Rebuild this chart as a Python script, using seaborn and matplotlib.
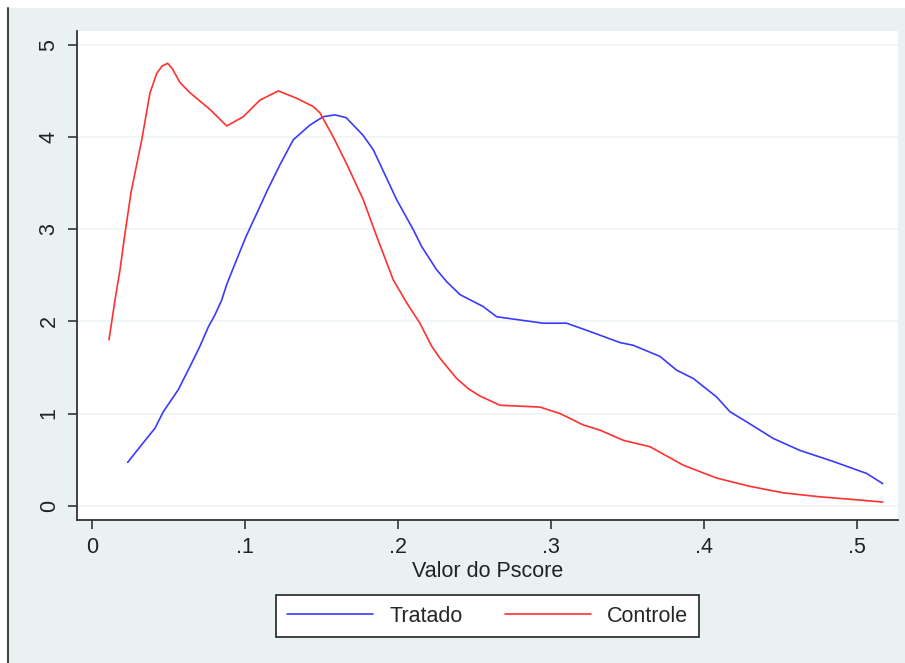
import matplotlib
matplotlib.use("Agg")
import matplotlib.pyplot as plt
import seaborn as sns
import pandas as pd
from matplotlib.patches import Rectangle
from matplotlib.lines import Line2D

# kernel density curves
tratado_x = [0.0233, 0.0314, 0.0411, 0.0466, 0.0564, 0.064, 0.0705, 0.076, 0.0803,
             0.0847, 0.088, 0.0945, 0.1006, 0.1076, 0.1145, 0.1228, 0.1315, 0.1424,
             0.151, 0.1587, 0.166, 0.177, 0.1838, 0.190, 0.199, 0.210, 0.2154, 0.2251,
             0.2317, 0.2404, 0.2556, 0.2643, 0.2817, 0.2948, 0.31, 0.3253, 0.3383,
             0.3449, 0.3536, 0.371, 0.3819, 0.3928, 0.408, 0.4167, 0.4276, 0.445,
             0.4624, 0.4842, 0.506, 0.5165]
tratado_y = [0.47, 0.64, 0.84, 1.02, 1.26, 1.51, 1.73, 1.94, 2.07,
             2.23, 2.40, 2.67, 2.92, 3.17, 3.42, 3.70, 3.97, 4.13,
             4.22, 4.24, 4.21, 4.02, 3.86, 3.64, 3.32, 2.99, 2.81, 2.56,
             2.43, 2.29, 2.16, 2.05, 2.01, 1.98, 1.98, 1.89, 1.81,
             1.77, 1.74, 1.62, 1.47, 1.38, 1.18, 1.02, 0.91, 0.73,
             0.60, 0.48, 0.35, 0.24]

controle_x = [0.0111, 0.015, 0.0183, 0.0216, 0.0255, 0.0325, 0.0379, 0.0423, 0.0458,
              0.0494, 0.0525, 0.0575, 0.064, 0.077, 0.088, 0.0988, 0.1097, 0.1217,
              0.1337, 0.1446, 0.149, 0.1576, 0.166, 0.1772, 0.186, 0.1968, 0.2056,
              0.2142, 0.2219, 0.2273, 0.2382, 0.2458, 0.2534, 0.2665, 0.2926, 0.3057,
              0.3209, 0.3318, 0.347, 0.3645, 0.3862, 0.408, 0.4298, 0.4515, 0.4733,
              0.4951, 0.5165]
controle_y = [1.80, 2.23, 2.56, 2.96, 3.40, 3.97, 4.48, 4.69, 4.77,
              4.80, 4.74, 4.59, 4.48, 4.30, 4.12, 4.22, 4.40, 4.50,
              4.42, 4.33, 4.26, 4.00, 3.72, 3.32, 2.92, 2.45, 2.20,
              1.98, 1.73, 1.60, 1.38, 1.27, 1.19, 1.09, 1.07, 1.00,
              0.876, 0.82, 0.71, 0.64, 0.44, 0.30, 0.21, 0.14, 0.10,
              0.07, 0.04]

grupos = ["Tratado", "Controle"]
cores = {"Tratado": "#3a3aff", "Controle": "#ff3030"}

x_ticks = [0, 0.1, 0.2, 0.3, 0.4, 0.5]
x_labels = ["0", ".1", ".2", ".3", ".4", ".5"]
y_ticks = [0, 1, 2, 3, 4, 5]

df = pd.concat([
    pd.DataFrame({"pscore": tratado_x, "densidade": tratado_y, "grupo": "Tratado"}),
    pd.DataFrame({"pscore": controle_x, "densidade": controle_y, "grupo": "Controle"}),
])

sns.set_theme(style="white")
plt.rcParams["font.family"] = ["Liberation Sans", "DejaVu Sans"]
fs = 15.5

fig = plt.figure(figsize=(9.05, 6.63), dpi=100, facecolor="white")
W, H = 905, 663

# stata-like outer panel
bg = "#e9f1f3"
fig.patches.append(Rectangle((8 / W, 0), 1 - 8 / W, 1 - 8 / H, transform=fig.transFigure,
                             facecolor=bg, edgecolor="none", zorder=-2))
fig.lines.append(Line2D([8 / W, 8 / W], [0, 1 - 8 / H], transform=fig.transFigure,
                        color="#444444", linewidth=1.5, zorder=-1))

ax = fig.add_axes([77 / W, 1 - 520 / H, (898 - 77) / W, (520 - 31) / H])
ax.set_zorder(2)
ax.set_facecolor("white")

sns.lineplot(data=df, x="pscore", y="densidade", hue="grupo", palette=cores,
             sort=False, estimator=None, linewidth=1.2, ax=ax, legend=False)

ax.set_xlim(-0.0098, 0.5265)
ax.set_ylim(-0.155, 5.15)
ax.set_xticks(x_ticks)
ax.set_xticklabels(x_labels)
ax.set_yticks(y_ticks)
ax.set_yticklabels([str(v) for v in y_ticks], rotation=90, va="center")

for v in y_ticks:
    ax.axhline(v, color="#eef3f4", linewidth=1.2, zorder=0)

for s in ["top", "right"]:
    ax.spines[s].set_visible(False)
for s in ["left", "bottom"]:
    ax.spines[s].set_color("#333333")
    ax.spines[s].set_linewidth(1.3)

ax.tick_params(axis="both", direction="out", length=6.5, width=1.2, color="#333333",
               labelsize=fs, labelcolor="#222222", left=True, bottom=True, pad=6)
ax.set_xlabel("Valor do Pscore", fontsize=fs, color="#222222", labelpad=2)
ax.set_ylabel("")

handles = [Line2D([], [], color=cores[g], linewidth=1.2) for g in grupos]
leg = fig.legend(handles, grupos, loc="center", bbox_to_anchor=(487.5 / W, 1 - 616 / H),
                 ncol=2, fontsize=fs, frameon=True, fancybox=False, handlelength=4.0,
                 columnspacing=1.95, handletextpad=0.75, borderpad=0.5)
leg.get_frame().set_edgecolor("#222222")
leg.get_frame().set_linewidth(1.2)
leg.get_frame().set_facecolor("white")
leg.get_frame().set_alpha(1)

fig.savefig("out.png", dpi=100, facecolor=fig.get_facecolor())
